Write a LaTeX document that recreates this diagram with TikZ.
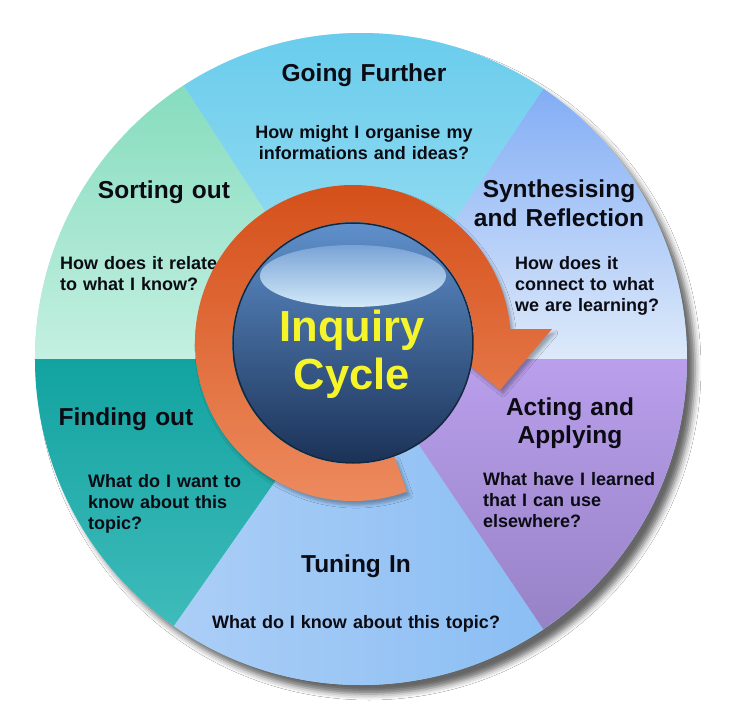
\documentclass[tikz,border=0pt]{standalone}
\usepackage{fontspec}
\setmainfont{Liberation Sans}
\usepackage{tikz}
\usetikzlibrary{shadows.blur, calc}
\definecolor{synthtop}{HTML}{82ADF5}
\definecolor{synthbot}{HTML}{DEEAFA}
\definecolor{gofurtop}{HTML}{66CBEC}
\definecolor{gofurbot}{HTML}{A8E2F3}
\definecolor{sorttop}{HTML}{86DCBE}
\definecolor{sortbot}{HTML}{C4F0E1}
\definecolor{findtop}{HTML}{12A3A0}
\definecolor{findbot}{HTML}{3FBBBB}
\definecolor{tunetop}{HTML}{ABCEF6}
\definecolor{tunebot}{HTML}{8BBEF4}
\definecolor{acttop}{HTML}{BA9FEC}
\definecolor{actbot}{HTML}{9782C6}
\definecolor{ringtop}{HTML}{D44E18}
\definecolor{ringbot}{HTML}{EE8E62}
\definecolor{balltop}{HTML}{5F90CB}
\definecolor{ballbot}{HTML}{1B3257}
\definecolor{ballrim}{HTML}{15263F}
\definecolor{glosstop}{HTML}{79A3D6}
\definecolor{glossbot}{HTML}{D3E9F8}
\definecolor{cycleyellow}{HTML}{F6F52C}
\definecolor{inktext}{HTML}{0B0B14}

\begin{document}
\begin{tikzpicture}[x=1pt, y=1pt,
  stage/.style={inktext, font=\fontsize{24.5}{29}\selectfont\bfseries, text width=200, align=center, inner sep=0pt, anchor=base},
  question/.style={inktext, font=\fontsize{18}{21}\selectfont\bfseries, text width=210, align=left, inner sep=0pt, anchor=base west},
]
  % Page
  \useasboundingbox (-361,-364) rectangle (381,359);
  \fill[white] (-361,-364) rectangle (381,359);

  % Disc with its shadow
  \fill[gofurbot, blur shadow={shadow xshift=8pt, shadow yshift=-9pt, shadow blur radius=6pt, shadow opacity=60}]
    (0,0) circle (326);

  % Six stages
  \foreach \a/\b/\topc/\botc/\ang in {0/56/synthtop/synthbot/0, 56/123/gofurtop/gofurbot/0, 123/180/sorttop/sortbot/0,
                                      180/235/findtop/findbot/0, 235/304/tunetop/tunebot/90, 304/360/acttop/actbot/0} {
    \shade[top color=\topc, bottom color=\botc, shading angle=\ang]
      (0,0) -- (\a:326) arc[start angle=\a, end angle=\b, radius=326] -- cycle;
  }

  % Stage titles and questions
  \node[stage] (going) at (3,277) {Going Further};
  \node[question, text width=260, align=center, anchor=base] (goingq) at (3,220)
    {How might I organise my\\informations and ideas?};
  \node[stage] (synth) at (198,161) {Synthesising\\and Reflection};
  \node[question] (synthq) at (154,89) {How does it\\connect to what\\we are learning?};
  \node[stage] (sorting) at (-197,160) {Sorting out};
  \node[question] (sortingq) at (-301,89) {How does it relate\\to what I know?};
  \node[stage] (finding) at (-235,-66) {Finding out};
  \node[question] (findingq) at (-273,-128) {What do I want to\\know about this\\topic?};
  \node[stage] (tuning) at (-5,-213) {Tuning In};
  \node[question, text width=320, align=center, anchor=base] (tuningq) at (-5,-269)
    {What do I know about this topic?};
  \node[stage] (acting) at (209,-56) {Acting and\\Applying};
  \node[question] (actingq) at (122,-126) {What have I learned\\that I can use\\elsewhere?};

  % Cycle arrow and sphere
  \begin{scope}[shift={(-8,16)}]
    \shade[top color=ringtop, bottom color=ringbot,
           blur shadow={shadow xshift=3pt, shadow yshift=-4pt, shadow blur radius=3pt, shadow opacity=30}]
      (290:158) arc[start angle=290, end angle=5, radius=158]
      -- (199,14) -- (147,-47) -- (84,4)
      -- (5:121) arc[start angle=5, end angle=290, radius=121] -- cycle;

    \shade[top color=balltop, bottom color=ballbot] (0,0) circle (120);
    \draw[ballrim, line width=1.5pt] (0,0) circle (120);
    \shade[top color=glosstop, bottom color=glossbot] (0,67) ellipse (93 and 31);

    \node[cycleyellow, font=\fontsize{43.5}{48}\selectfont\bfseries, text width=220, align=center, inner sep=0pt, anchor=base]
      (inquiry) at (-1,1) {Inquiry\\Cycle};
  \end{scope}
\end{tikzpicture}
\end{document}
